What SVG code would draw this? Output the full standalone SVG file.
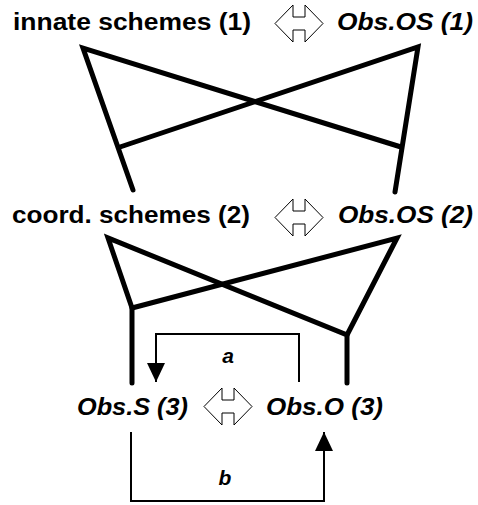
<svg xmlns="http://www.w3.org/2000/svg" width="478" height="505" viewBox="0 0 478 505">
<style>
.t{font-family:"Liberation Sans",Arial,sans-serif;font-weight:bold;font-size:23px;fill:#000}
.i{font-style:italic}
.lbl{font-family:"Liberation Sans",Arial,sans-serif;font-weight:bold;font-style:italic;font-size:21px;fill:#000;text-anchor:middle}
.thick{fill:none;stroke:#000;stroke-width:5;stroke-linejoin:miter;stroke-linecap:round}
.thin{fill:none;stroke:#000;stroke-width:2}
.dbl{fill:#fff;stroke:#000;stroke-width:1}
</style>
<defs>
<marker id="ah" viewBox="0 0 19 18" refX="19" refY="9" markerWidth="19" markerHeight="18" markerUnits="userSpaceOnUse" orient="auto">
<path d="M0,0 L19,9 L0,18 Z" fill="#000"/>
</marker>
<polygon id="dblarrow" points="0,18.5 18,0 18,12 30,12 30,0 48,18.5 30,37 30,25 18,25 18,37"/>
</defs>
<g id="connectors">
<path class="thick" d="M133,190 L83,48 L401,147"/>
<path class="thick" d="M395,192 L418,47 L120,147"/>
<path class="thick" d="M132,383 L132,308 L108,238 L347,335 L347,383"/>
<path class="thick" d="M132,308 L397,238 L347,335"/>
<path class="thin" d="M299,382 V334 H156 V382" marker-end="url(#ah)"/>
<path class="thin" d="M131,432 V501 H324 V432" marker-end="url(#ah)"/>
<text class="lbl" x="228" y="363">a</text>
<text class="lbl" x="225" y="485">b</text>
<use href="#dblarrow" class="dbl" x="275" y="5"/>
<use href="#dblarrow" class="dbl" x="275" y="199"/>
<use href="#dblarrow" class="dbl" x="204" y="388"/>
</g>
<g id="innate-schemes"><text class="t" x="13" y="30" textLength="238" lengthAdjust="spacingAndGlyphs">innate schemes (1)</text></g>
<g id="obs-os-1"><text class="t i" x="337" y="30" textLength="136" lengthAdjust="spacingAndGlyphs">Obs.OS (1)</text></g>
<g id="coord-schemes"><text class="t" x="12" y="223" textLength="238" lengthAdjust="spacingAndGlyphs">coord. schemes (2)</text></g>
<g id="obs-os-2"><text class="t i" x="338" y="223" textLength="135" lengthAdjust="spacingAndGlyphs">Obs.OS (2)</text></g>
<g id="obs-s-3"><text class="t i" x="77" y="415" textLength="111" lengthAdjust="spacingAndGlyphs">Obs.S (3)</text></g>
<g id="obs-o-3"><text class="t i" x="266" y="415" textLength="117" lengthAdjust="spacingAndGlyphs">Obs.O (3)</text></g>
</svg>
